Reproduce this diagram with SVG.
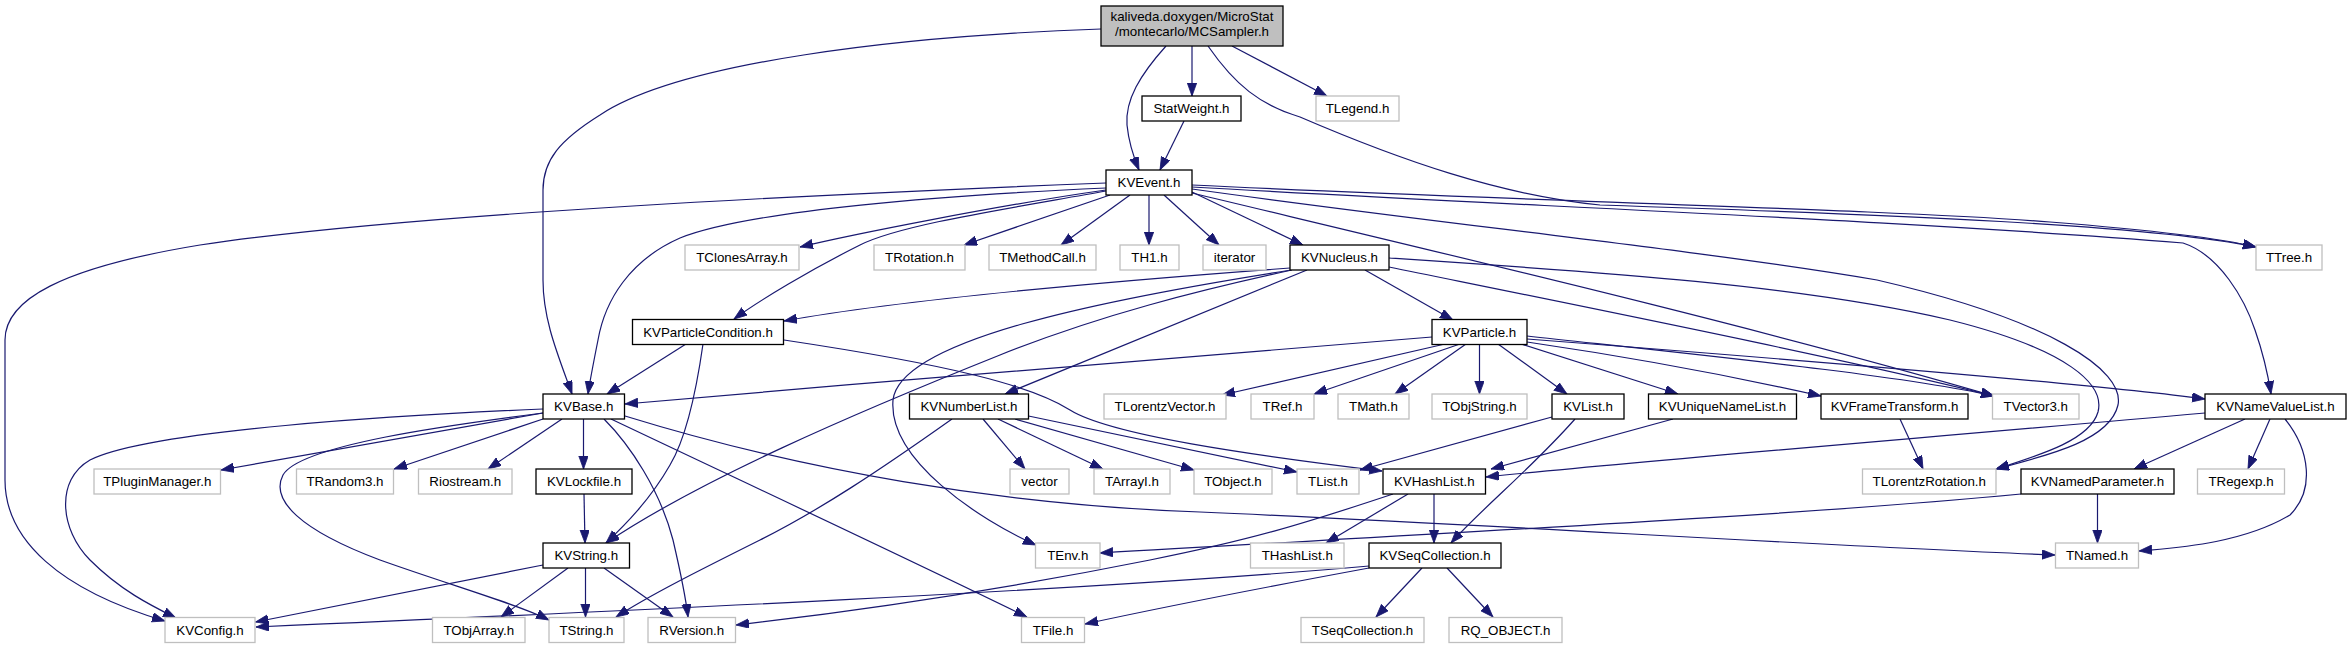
<svg xmlns="http://www.w3.org/2000/svg" width="2351" height="649" viewBox="0 0 2351 649">
<defs>
<marker id="a" markerUnits="userSpaceOnUse" markerWidth="14" markerHeight="10" refX="13" refY="4.7" orient="auto">
<path d="M0,0 L13,4.7 L0,9.4 z" fill="#191970" stroke="#191970" stroke-width="0.8"/>
</marker>
<style>
.n rect{fill:#fff;stroke:#000;stroke-width:1.3}
.g rect{fill:#fff;stroke:#bfbfbf;stroke-width:1.3}
.m rect{fill:#bfbfbf;stroke:#000;stroke-width:1.3}
text{font-family:"Liberation Sans",Arial,Helvetica,sans-serif;font-size:13.33px;text-anchor:middle;fill:#000}
.e path{fill:none;stroke:#191970;stroke-width:1.2;marker-end:url(#a)}
</style>
</defs>
<rect x="0" y="0" width="2351" height="649" fill="#fff"/>
<g id="edges" class="e">
<path d="M1101,29 C900,36 680,62 600,115 C560,140 543,160 543,190 L543,280 C543,320 558,355 572,394"/>
<path d="M1166,46 C1140,75 1125,100 1127,125 C1129,145 1134,158 1139,170"/>
<path d="M1192,46 L1192,96"/>
<path d="M1232,46 L1327,96"/>
<path d="M1208,46 C1235,85 1260,105 1300,117 C1400,160 1500,195 1600,205 C1900,215 2150,225 2256,247"/>
<path d="M1184,121 L1160,170"/>
<path d="M1106,183 C800,195 400,215 200,245 C60,268 5,300 5,340 L5,480 C5,540 60,590 165,621"/>
<path d="M1106,188 C950,195 750,210 680,238 C630,260 605,300 598,340 C594,360 590,380 588,394"/>
<path d="M1106,190 C1000,205 850,235 800,247"/>
<path d="M1106,191 C1000,210 900,225 860,245 C810,270 760,300 734,319"/>
<path d="M1110,195 L964,245"/>
<path d="M1130,195 L1061,245"/>
<path d="M1149,195 L1149,245"/>
<path d="M1164,195 L1219,245"/>
<path d="M1192,192 L1303,245"/>
<path d="M1192,193 C1450,255 1750,325 1994,396"/>
<path d="M1192,189 C1450,225 1700,250 1877,280 C2050,320 2125,370 2118,405 C2110,440 2050,455 1996,469"/>
<path d="M1192,185 C1500,200 1900,210 2050,222 C2150,230 2220,238 2256,247"/>
<path d="M1192,187 C1500,205 1900,220 2183,243 C2220,255 2245,300 2255,330 C2262,350 2268,375 2271,394"/>
<path d="M1290,268 C1100,282 900,300 784,321"/>
<path d="M1292,270 C1200,290 1100,315 1000,355 C850,415 700,480 606,543"/>
<path d="M1291,270 C1100,300 900,340 893,400 C888,460 980,520 1036,545"/>
<path d="M1307,270 L1005,394"/>
<path d="M1365,270 L1453,320"/>
<path d="M1389,267 C1600,310 1850,360 1994,396"/>
<path d="M1389,258 C1600,272 1800,285 1950,320 C2070,350 2105,385 2098,412 C2090,440 2040,455 1996,469"/>
<path d="M1432,337 C1200,355 900,380 625,404"/>
<path d="M1445,344 L1222,395"/>
<path d="M1460,344 L1314,394"/>
<path d="M1466,344 L1395,394"/>
<path d="M1479.5,344 L1479.5,394"/>
<path d="M1498,344 L1567,394"/>
<path d="M1521,344 L1678,394"/>
<path d="M1527,342 C1650,360 1750,380 1821,396"/>
<path d="M1527,336 C1700,355 1900,375 1994,396"/>
<path d="M1527,339 C1800,360 2100,385 2205,399"/>
<path d="M686,344 L607,394"/>
<path d="M703,344 C695,400 685,440 670,465 C650,500 625,525 606,543"/>
<path d="M784,340 C950,365 1030,385 1070,410 C1110,435 1250,455 1382,471"/>
<path d="M543,409 C400,415 150,430 90,460 C55,480 60,530 90,560 C120,590 150,605 176,618"/>
<path d="M543,413 L221,470"/>
<path d="M543,413 C450,425 300,445 283,475 C270,500 300,530 380,560 C450,585 520,605 549,620"/>
<path d="M543,419 L394,469"/>
<path d="M562,419 L488,469"/>
<path d="M583.5,419 L583.5,469"/>
<path d="M604,419 C630,445 660,490 673,540 C680,570 686,600 688,617"/>
<path d="M611,419 C750,485 900,555 1027,617"/>
<path d="M625,416 C800,470 1000,505 1200,512 C1500,525 1800,545 2055,555"/>
<path d="M584,494 L585,543"/>
<path d="M543,565 L255.5,622"/>
<path d="M568,568 L501,617"/>
<path d="M585.5,568 L585.5,617"/>
<path d="M604,568 L673,617"/>
<path d="M952,419 C880,470 820,510 760,540 C700,570 650,595 616,617"/>
<path d="M983,419 L1025,469"/>
<path d="M998,419 L1103,469"/>
<path d="M1015,419 L1194,470"/>
<path d="M1028.5,416 L1297,472"/>
<path d="M1552,417 L1360,470"/>
<path d="M1575,419 C1530,470 1480,510 1451,543"/>
<path d="M1673,419 L1491,469"/>
<path d="M2205,413 C1900,440 1650,460 1486,477"/>
<path d="M2245,419 L2134,469"/>
<path d="M2270,419 L2248,469"/>
<path d="M2285,419 C2310,450 2315,490 2290,515 C2240,545 2170,548 2139,551"/>
<path d="M1900,419 L1923,469"/>
<path d="M2097.5,494 L2097.5,543"/>
<path d="M2021,494 C1800,515 1500,530 1100,553"/>
<path d="M1393,494 C1300,525 1250,540 1150,560 C1000,590 850,612 736,625"/>
<path d="M1408,494 L1326,543"/>
<path d="M1434,494 L1434,543"/>
<path d="M1369,566 C1100,590 600,612 256,627"/>
<path d="M1369,568 C1250,590 1150,610 1085,624"/>
<path d="M1422,568 L1376,617"/>
<path d="M1447,568 L1493,617"/>
</g>
<g id="n_main" class="m"><rect x="1101" y="6" width="182" height="40"/><text x="1192" y="21">kaliveda.doxygen/MicroStat</text><text x="1192" y="36">/montecarlo/MCSampler.h</text></g>
<g id="n_statweight" class="n"><rect x="1142" y="96" width="99" height="25"/><text x="1191.5" y="113">StatWeight.h</text></g>
<g id="n_tlegend" class="g"><rect x="1316" y="96" width="83" height="25"/><text x="1357.5" y="113">TLegend.h</text></g>
<g id="n_kvevent" class="n"><rect x="1106" y="170" width="86" height="25"/><text x="1149" y="187">KVEvent.h</text></g>
<g id="n_tclonesarray" class="g"><rect x="685" y="245" width="114" height="25"/><text x="742" y="262">TClonesArray.h</text></g>
<g id="n_trotation" class="g"><rect x="874" y="245" width="91" height="25"/><text x="919.5" y="262">TRotation.h</text></g>
<g id="n_tmethodcall" class="g"><rect x="989" y="245" width="107" height="25"/><text x="1042.5" y="262">TMethodCall.h</text></g>
<g id="n_th1" class="g"><rect x="1120" y="245" width="59" height="25"/><text x="1149.5" y="262">TH1.h</text></g>
<g id="n_iterator" class="g"><rect x="1203" y="245" width="63" height="25"/><text x="1234.5" y="262">iterator</text></g>
<g id="n_kvnucleus" class="n"><rect x="1290" y="245" width="99" height="25"/><text x="1339.5" y="262">KVNucleus.h</text></g>
<g id="n_ttree" class="g"><rect x="2256" y="245" width="66" height="25"/><text x="2289" y="262">TTree.h</text></g>
<g id="n_kvparticlecondition" class="n"><rect x="632.5" y="319.5" width="151" height="25"/><text x="708" y="336.5">KVParticleCondition.h</text></g>
<g id="n_kvparticle" class="n"><rect x="1432" y="319.5" width="95" height="25"/><text x="1479.5" y="336.5">KVParticle.h</text></g>
<g id="n_kvbase" class="n"><rect x="543" y="394" width="81.5" height="25"/><text x="583.75" y="411">KVBase.h</text></g>
<g id="n_kvnumberlist" class="n"><rect x="909.5" y="394" width="119" height="25"/><text x="969" y="411">KVNumberList.h</text></g>
<g id="n_tlorentzvector" class="g"><rect x="1104" y="394" width="122" height="25"/><text x="1165" y="411">TLorentzVector.h</text></g>
<g id="n_tref" class="g"><rect x="1251" y="394" width="63" height="25"/><text x="1282.5" y="411">TRef.h</text></g>
<g id="n_tmath" class="g"><rect x="1338" y="394" width="71" height="25"/><text x="1373.5" y="411">TMath.h</text></g>
<g id="n_tobjstring" class="g"><rect x="1432" y="394" width="95" height="25"/><text x="1479.5" y="411">TObjString.h</text></g>
<g id="n_kvlist" class="n"><rect x="1552" y="394" width="72" height="25"/><text x="1588" y="411">KVList.h</text></g>
<g id="n_kvuniquenamelist" class="n"><rect x="1648.5" y="394" width="148" height="25"/><text x="1722.5" y="411">KVUniqueNameList.h</text></g>
<g id="n_kvframetransform" class="n"><rect x="1821" y="394" width="147" height="25"/><text x="1894.5" y="411">KVFrameTransform.h</text></g>
<g id="n_tvector3" class="g"><rect x="1992.5" y="394" width="86.5" height="25"/><text x="2035.75" y="411">TVector3.h</text></g>
<g id="n_kvnamevaluelist" class="n"><rect x="2205" y="394" width="141" height="25"/><text x="2275.5" y="411">KVNameValueList.h</text></g>
<g id="n_tpluginmanager" class="g"><rect x="94" y="469" width="126.5" height="25"/><text x="157.25" y="486">TPluginManager.h</text></g>
<g id="n_trandom3" class="g"><rect x="296.5" y="469" width="97" height="25"/><text x="345" y="486">TRandom3.h</text></g>
<g id="n_riostream" class="g"><rect x="418.5" y="469" width="93.5" height="25"/><text x="465.25" y="486">Riostream.h</text></g>
<g id="n_kvlockfile" class="n"><rect x="536" y="469" width="96" height="25"/><text x="584" y="486">KVLockfile.h</text></g>
<g id="n_vector" class="g"><rect x="1010" y="469" width="59" height="25"/><text x="1039.5" y="486">vector</text></g>
<g id="n_tarrayi" class="g"><rect x="1094" y="469" width="76" height="25"/><text x="1132" y="486">TArrayI.h</text></g>
<g id="n_tobject" class="g"><rect x="1194" y="469" width="78" height="25"/><text x="1233" y="486">TObject.h</text></g>
<g id="n_tlist" class="g"><rect x="1297" y="469" width="62" height="25"/><text x="1328" y="486">TList.h</text></g>
<g id="n_kvhashlist" class="n"><rect x="1383" y="469" width="102.5" height="25"/><text x="1434.25" y="486">KVHashList.h</text></g>
<g id="n_tlorentzrotation" class="g"><rect x="1862.5" y="469" width="133.5" height="25"/><text x="1929.25" y="486">TLorentzRotation.h</text></g>
<g id="n_kvnamedparameter" class="n"><rect x="2021" y="469" width="153" height="25"/><text x="2097.5" y="486">KVNamedParameter.h</text></g>
<g id="n_tregexp" class="g"><rect x="2197.5" y="469" width="87" height="25"/><text x="2241" y="486">TRegexp.h</text></g>
<g id="n_kvstring" class="n"><rect x="543" y="543" width="86.5" height="25"/><text x="586.25" y="560">KVString.h</text></g>
<g id="n_tenv" class="g"><rect x="1035.5" y="543" width="64.5" height="25"/><text x="1067.75" y="560">TEnv.h</text></g>
<g id="n_thashlist" class="g"><rect x="1250.5" y="543" width="93.5" height="25"/><text x="1297.25" y="560">THashList.h</text></g>
<g id="n_kvseqcollection" class="n"><rect x="1369" y="543" width="132" height="25"/><text x="1435" y="560">KVSeqCollection.h</text></g>
<g id="n_tnamed" class="g"><rect x="2055.5" y="543" width="83" height="25"/><text x="2097" y="560">TNamed.h</text></g>
<g id="n_kvconfig" class="g"><rect x="165" y="617.5" width="90" height="25"/><text x="210" y="634.5">KVConfig.h</text></g>
<g id="n_tobjarray" class="g"><rect x="432.5" y="617.5" width="92.5" height="25"/><text x="478.75" y="634.5">TObjArray.h</text></g>
<g id="n_tstring" class="g"><rect x="549" y="617.5" width="75" height="25"/><text x="586.5" y="634.5">TString.h</text></g>
<g id="n_rversion" class="g"><rect x="648" y="617.5" width="87.5" height="25"/><text x="691.75" y="634.5">RVersion.h</text></g>
<g id="n_tfile" class="g"><rect x="1021.5" y="617.5" width="63" height="25"/><text x="1053" y="634.5">TFile.h</text></g>
<g id="n_tseqcollection" class="g"><rect x="1301" y="617.5" width="123" height="25"/><text x="1362.5" y="634.5">TSeqCollection.h</text></g>
<g id="n_rq_object" class="g"><rect x="1449" y="617.5" width="113" height="25"/><text x="1505.5" y="634.5">RQ_OBJECT.h</text></g>
</svg>
